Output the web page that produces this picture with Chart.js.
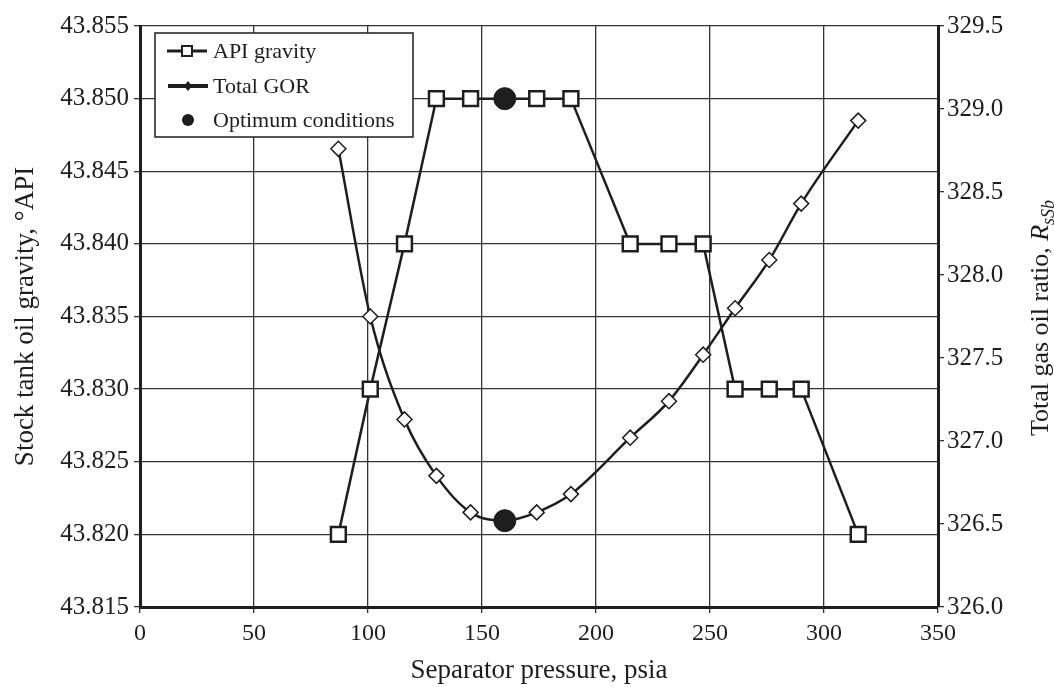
<!DOCTYPE html>
<html>
<head>
<meta charset="utf-8">
<script src="https://cdn.jsdelivr.net/npm/chart.js@4.4.1/dist/chart.umd.min.js"></script>
<style>
  html, body { margin: 0; padding: 0; background: #fff; }
  #wrap { width: 1054px; height: 687px; }
</style>
</head>
<body>
<div id="wrap"><canvas id="sepChart" width="1054" height="687"></canvas></div>
<script>
// Separator pressure vs stock tank API gravity and total GOR

const pressure = [87, 101, 116, 130, 145, 174, 189, 215, 232, 247, 261, 276, 290, 315];
const apiGravity = [43.820, 43.830, 43.840, 43.850, 43.850, 43.850, 43.850, 43.840, 43.840, 43.840, 43.830, 43.830, 43.830, 43.820];
const gorPressure = [87, 101, 116, 130, 145, 160, 174, 189, 215, 232, 247, 261, 276, 290, 315];
const totalGor = [328.76, 327.75, 327.13, 326.79, 326.57, 326.52, 326.57, 326.68, 327.02, 327.24, 327.52, 327.80, 328.09, 328.43, 328.93];
const optimumPressure = 160;
const optimumApi = 43.850;
const optimumGor = 326.52;

const FONT = '"Liberation Serif", "DejaVu Serif", serif';
const INK = '#1e1e1e';

function pts(xs, ys) {
  return xs.map((x, i) => ({ x: x, y: ys[i] }));
}

// legend drawn as a framed box inside the plot, like the original figure
const boxLegend = {
  id: 'boxLegend',
  afterDraw(chart) {
    const ctx = chart.ctx;
    ctx.save();
    ctx.fillStyle = '#fff';
    ctx.fillRect(155, 33, 258, 104);
    ctx.strokeStyle = INK;
    ctx.lineWidth = 1.5;
    ctx.strokeRect(155, 33, 258, 104);

    ctx.font = '22px ' + FONT;
    ctx.fillStyle = INK;
    ctx.textBaseline = 'middle';

    // API gravity
    ctx.lineWidth = 3;
    ctx.beginPath(); ctx.moveTo(167, 51); ctx.lineTo(207, 51); ctx.stroke();
    ctx.fillStyle = '#fff';
    ctx.lineWidth = 2;
    ctx.fillRect(182, 46, 10, 10); ctx.strokeRect(182, 46, 10, 10);
    ctx.fillStyle = INK;
    ctx.fillText('API gravity', 213, 52);

    // Total GOR
    ctx.lineWidth = 4;
    ctx.beginPath(); ctx.moveTo(168, 86); ctx.lineTo(208, 86); ctx.stroke();
    ctx.beginPath();
    ctx.moveTo(188, 81); ctx.lineTo(192, 86); ctx.lineTo(188, 91); ctx.lineTo(184, 86);
    ctx.closePath(); ctx.fill();
    ctx.fillText('Total GOR', 213, 87);

    // Optimum
    ctx.beginPath(); ctx.arc(188, 120, 6, 0, Math.PI * 2); ctx.fill();
    ctx.fillText('Optimum conditions', 213, 121);

    // right axis title with italic R and subscript
    ctx.translate(1039, 318);
    ctx.rotate(-Math.PI / 2);
    ctx.textBaseline = 'alphabetic';
    const main = 'Total gas oil ratio, ';
    ctx.font = '26px ' + FONT;
    const w1 = ctx.measureText(main).width;
    ctx.font = 'italic 26px ' + FONT;
    const w2 = ctx.measureText('R').width;
    ctx.font = 'italic 18px ' + FONT;
    const w3 = ctx.measureText('sSb').width;
    const x0 = -(w1 + w2 + w3) / 2;
    ctx.font = '26px ' + FONT;
    ctx.fillText(main, x0, 9);
    ctx.font = 'italic 26px ' + FONT;
    ctx.fillText('R', x0 + w1, 9);
    ctx.font = 'italic 18px ' + FONT;
    ctx.fillText('sSb', x0 + w1 + w2, 15);
    ctx.restore();
  }
};

const ctx = document.getElementById('sepChart').getContext('2d');
new Chart(ctx, {
  type: 'line',
  data: {
    datasets: [
      {
        label: 'Optimum conditions',
        data: [{ x: optimumPressure, y: optimumApi }],
        yAxisID: 'y',
        showLine: false,
        pointStyle: 'circle',
        pointRadius: 11,
        backgroundColor: INK,
        borderColor: INK,
        order: 0
      },
      {
        label: 'Optimum conditions',
        data: [{ x: optimumPressure, y: optimumGor }],
        yAxisID: 'y2',
        showLine: false,
        pointStyle: 'circle',
        pointRadius: 11,
        backgroundColor: INK,
        borderColor: INK,
        order: 0
      },
      {
        label: 'API gravity',
        data: pts(pressure, apiGravity),
        yAxisID: 'y',
        borderColor: INK,
        borderWidth: 2.5,
        tension: 0,
        pointStyle: 'rect',
        pointRadius: 10.5,
        pointBorderWidth: 2.5,
        pointBackgroundColor: '#fff',
        pointBorderColor: INK,
        order: 2
      },
      {
        label: 'Total GOR',
        data: pts(gorPressure, totalGor),
        yAxisID: 'y2',
        borderColor: INK,
        borderWidth: 2.5,
        cubicInterpolationMode: 'monotone',
        pointStyle: 'rectRot',
        pointRadius: (c) => c.dataIndex === 5 ? 0 : 7.5,
        pointBorderWidth: 1.5,
        pointBackgroundColor: '#fff',
        pointBorderColor: INK,
        order: 1
      }
    ]
  },
  options: {
    responsive: false,
    animation: false,
    layout: { padding: { top: 26 } },
    plugins: { legend: { display: false }, tooltip: { enabled: false } },
    scales: {
      x: {
        type: 'linear',
        min: 0, max: 350,
        ticks: { stepSize: 50, color: INK, font: { family: FONT, size: 24 }, padding: 6 },
        grid: { color: '#333', lineWidth: 1.3, tickLength: 6 },
        border: { color: INK, width: 3 },
        title: { display: true, text: 'Separator pressure, psia', color: INK, font: { family: FONT, size: 27 }, padding: { top: 4, bottom: 0 } },
        afterFit(s) { s.height = 80; }
      },
      y: {
        position: 'left',
        min: 43.815, max: 43.855,
        ticks: { stepSize: 0.005, color: INK, font: { family: FONT, size: 25 }, padding: 5,
          callback: (v) => v.toFixed(3) },
        grid: { color: '#333', lineWidth: 1.3, tickLength: 6 },
        border: { color: INK, width: 3 },
        title: { display: true, text: 'Stock tank oil gravity, °API', color: INK, font: { family: FONT, size: 27 }, padding: { top: 10, bottom: 0 } },
        afterFit(s) { s.width = 140; }
      },
      y2: {
        position: 'right',
        min: 326.0, max: 329.5,
        ticks: { stepSize: 0.5, color: INK, font: { family: FONT, size: 25 }, padding: 3,
          callback: (v) => v.toFixed(1) },
        grid: { drawOnChartArea: false, color: '#333', lineWidth: 1.3, tickLength: 6 },
        border: { color: INK, width: 3 },
        afterFit(s) { s.width = 116; }
      }
    }
  },
  plugins: [boxLegend]
});
</script>
</body>
</html>
